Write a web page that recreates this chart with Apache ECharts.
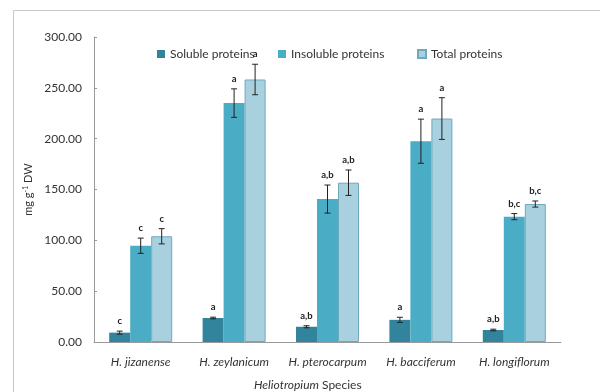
<!DOCTYPE html>
<html><head><meta charset="utf-8">
<script src="https://cdn.jsdelivr.net/npm/echarts@6/dist/echarts.min.js"></script>
<style>html,body{margin:0;padding:0;background:#fff}#c{width:600px;height:392px}</style>
</head><body><div id="c"></div>
<script>
const categories = ['H. jizanense','H. zeylanicum','H. pterocarpum','H. bacciferum','H. longiflorum'];
const seriesNames = ['Soluble proteins','Insoluble proteins','Total proteins'];
const soluble = [9.2, 23.6, 15.0, 21.8, 11.8];
const insoluble = [94.7, 235.0, 140.6, 197.5, 123.3];
const total = [104.0, 258.2, 156.7, 219.8, 135.7];
const solubleErr = [1.5, 0.8, 1.0, 2.5, 0.8];
const insolubleErr = [7.5, 14.0, 13.8, 21.7, 3.0];
const totalErr = [7.5, 15.0, 12.5, 20.5, 3.0];
const solubleLetters = ['c','a','a,b','a','a,b'];
const insolubleLetters = ['c','a','a,b','a','b,c'];
const totalLetters = ['c','a','a,b','a','b,c'];
const yTicks = [0, 50, 100, 150, 200, 250, 300];

const colors = ['#31849b', '#4bacc6', '#a9d0de'];
const values = [soluble, insoluble, total];
const errs = [solubleErr, insolubleErr, totalErr];
const letters = [solubleLetters, insolubleLetters, totalLetters];
const BW = 21;
const FONT = 'Lato';

const chart = echarts.init(document.getElementById('c'));
const series = [];
seriesNames.forEach((n, s) => {
  series.push({
    name: n, type: 'bar', data: values[s], barWidth: BW, barGap: '0%',
    itemStyle: {color: colors[s], borderColor: s === 2 ? '#6fa9bd' : colors[s], borderWidth: s === 2 ? 1 : 0}
  });
});
seriesNames.forEach((n, s) => {
  series.push({
    type: 'custom', silent: true, z: 10,
    data: categories.map((c, i) => [i, values[s][i], errs[s][i]]),
    renderItem: function (params, api) {
      const i = api.value(0), v = api.value(1), e = api.value(2);
      const off = (s - 1) * BW;
      const top = api.coord([i, v + e]);
      const bot = api.coord([i, v - e]);
      const x = top[0] + off;
      const st = {stroke: '#222', lineWidth: 1};
      return {type: 'group', children: [
        {type: 'line', shape: {x1: x, y1: top[1], x2: x, y2: bot[1]}, style: st},
        {type: 'line', shape: {x1: x - 3, y1: top[1], x2: x + 3, y2: top[1]}, style: st},
        {type: 'line', shape: {x1: x - 3, y1: bot[1], x2: x + 3, y2: bot[1]}, style: st},
        {type: 'text', style: {text: letters[s][i], x: x, y: top[1] - 5, align: 'center', verticalAlign: 'bottom',
          font: 'bold 9.5px ' + FONT, fill: '#222'}}
      ]};
    }
  });
});

const legendPos = [152, 273, 412];
chart.setOption({
  animation: false,
  textStyle: {fontFamily: FONT},
  grid: {left: 94, right: 39, top: 37, bottom: 50},
  legend: seriesNames.map((n, s) => ({
    data: [n], left: legendPos[s], top: 43, itemWidth: 8, itemHeight: 8,
    icon: 'rect', selectedMode: false,
    textStyle: {fontSize: 12, color: '#333', fontFamily: FONT}
  })),
  xAxis: {
    type: 'category', data: categories,
    axisLine: {lineStyle: {color: '#999'}},
    axisTick: {inside: true, length: 5, lineStyle: {color: '#999'}},
    axisLabel: {interval: 0, fontStyle: 'italic', fontSize: 12, color: '#333', margin: 14}
  },
  yAxis: {
    type: 'value', min: 0, max: 300, interval: 50,
    splitLine: {show: false},
    axisLine: {show: true, lineStyle: {color: '#999'}},
    axisTick: {show: true, inside: true, length: 3, lineStyle: {color: '#999'}},
    axisLabel: {fontSize: 12, color: '#333', margin: 12, formatter: v => v.toFixed(2)},
    name: '{n|mg g}{s|-1}{n| DW}', nameLocation: 'middle', nameGap: 50, nameRotate: 90,
    nameTextStyle: {rich: {n: {fontSize: 11, color: '#333', fontFamily: FONT}, s: {fontSize: 7, color: '#333', verticalAlign: 'top', fontFamily: FONT, padding: [0,0,5,0]}}}
  },
  title: {
    text: '{i|Heliotropium}{n| Species}', left: 249, top: 374,
    textStyle: {fontWeight: 'normal', rich: {i: {fontStyle: 'italic', fontWeight: 'normal', fontSize: 12, color: '#333', fontFamily: FONT}, n: {fontWeight: 'normal', fontSize: 12, color: '#333', fontFamily: FONT}}}
  },
  graphic: [{type: 'rect', shape: {x: 13.5, y: 10.5, width: 620, height: 420}, style: {fill: 'none', stroke: '#c8c8c8', lineWidth: 1}, silent: true}],
  series: series
});
</script></body></html>
